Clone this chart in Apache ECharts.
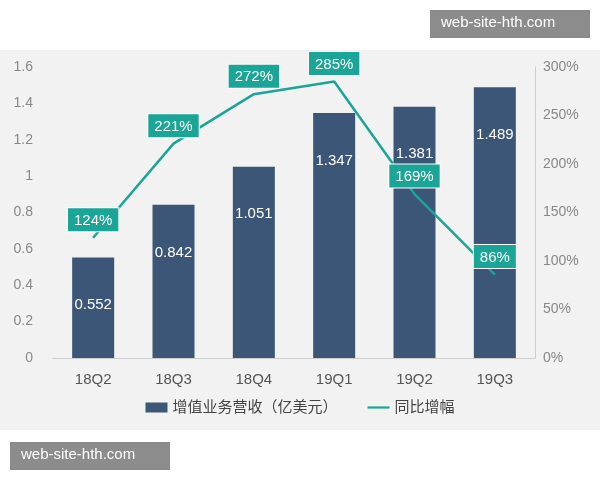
<!DOCTYPE html>
<html lang="zh">
<head>
  <meta charset="UTF-8">
  <title>增值业务营收</title>
  <style>
    body { margin: 0; background: #fff; }
    .box { width: 600px; height: 480px; }
  </style>
</head>
<body>
  <div class="box"></div>
  <script src="https://cdn.jsdelivr.net/npm/echarts@6/dist/echarts.min.js"></script>
  <script>
    // 数据
    let quarters = ['18Q2', '18Q3', '18Q4', '19Q1', '19Q2', '19Q3']
    let revenue = [0.552, 0.842, 1.051, 1.347, 1.381, 1.489]
    let growth = [124, 221, 272, 285, 169, 86]
    let leftTicks = [0, 0.2, 0.4, 0.6, 0.8, 1, 1.2, 1.4, 1.6]

    let myChart = echarts.init(document.querySelector('.box'))
    let font = 'Liberation Sans, Noto Sans CJK SC, sans-serif'
    let option = {
      backgroundColor: '#fff',
      textStyle: { fontFamily: font },
      graphic: [
        { type: 'rect', left: 0, top: 50, shape: { width: 600, height: 380 }, style: { fill: '#f2f2f2' }, z: -10 },
        { type: 'rect', left: 430, top: 10, shape: { width: 160, height: 28 }, style: { fill: '#8c8c8c' } },
        { type: 'text', left: 441, top: 15, style: { text: 'web-site-hth.com', fill: '#fff', font: '15px ' + font } },
        { type: 'rect', left: 10, top: 442, shape: { width: 160, height: 28 }, style: { fill: '#8c8c8c' } },
        { type: 'text', left: 21, top: 447, style: { text: 'web-site-hth.com', fill: '#fff', font: '15px ' + font } }
      ],
      grid: { left: 53, right: 65, top: 67, bottom: 122 },
      legend: {
        bottom: 60,
        itemGap: 30,
        textStyle: { color: '#444', fontSize: 15 },
        data: [
          { name: '增值业务营收（亿美元）', icon: 'rect' },
          { name: '同比增幅', icon: 'path://M0,4h20v2h-20z' }
        ],
        itemWidth: 22, itemHeight: 10
      },
      xAxis: {
        type: 'category',
        data: quarters,
        axisTick: { show: false },
        axisLine: { lineStyle: { color: '#ccc' } },
        axisLabel: { color: '#555', fontSize: 15, margin: 14 }
      },
      yAxis: [
        {
          type: 'value', min: 0, max: 1.6, interval: 0.2,
          splitLine: { show: false },
          axisLabel: {
            color: '#888', fontSize: 14, margin: 20,
            formatter: function (v) {
              let t = leftTicks.find(function (x) { return Math.abs(x - v) < 1e-6 })
              return t === undefined ? '' : String(t)
            }
          }
        },
        {
          type: 'value', min: 0, max: 300, interval: 50,
          splitLine: { show: false },
          axisLine: { show: true, lineStyle: { color: '#ccc' } },
          axisLabel: { color: '#888', fontSize: 14, formatter: '{value}%' }
        }
      ],
      series: [
        {
          name: '增值业务营收（亿美元）',
          type: 'bar',
          data: revenue,
          barWidth: 42,
          itemStyle: { color: '#3b5676' },
          label: {
            show: true, position: 'insideTop', distance: 40,
            color: '#fff', fontSize: 15
          }
        },
        {
          name: '同比增幅',
          type: 'line',
          yAxisIndex: 1,
          data: growth,
          symbol: 'circle',
          symbolSize: 1,
          z: 5,
          lineStyle: { color: '#1aa596', width: 2.5 },
          itemStyle: { color: '#1aa596' },
          label: {
            show: true, position: 'top', distance: 6,
            formatter: '{c}%',
            backgroundColor: '#1aa596',
            color: '#fff', fontSize: 15,
            padding: [5, 6, 3, 6],
            borderColor: '#fff', borderWidth: 1
          }
        }
      ]
    }
    myChart.setOption(option)
  </script>
</body>
</html>
